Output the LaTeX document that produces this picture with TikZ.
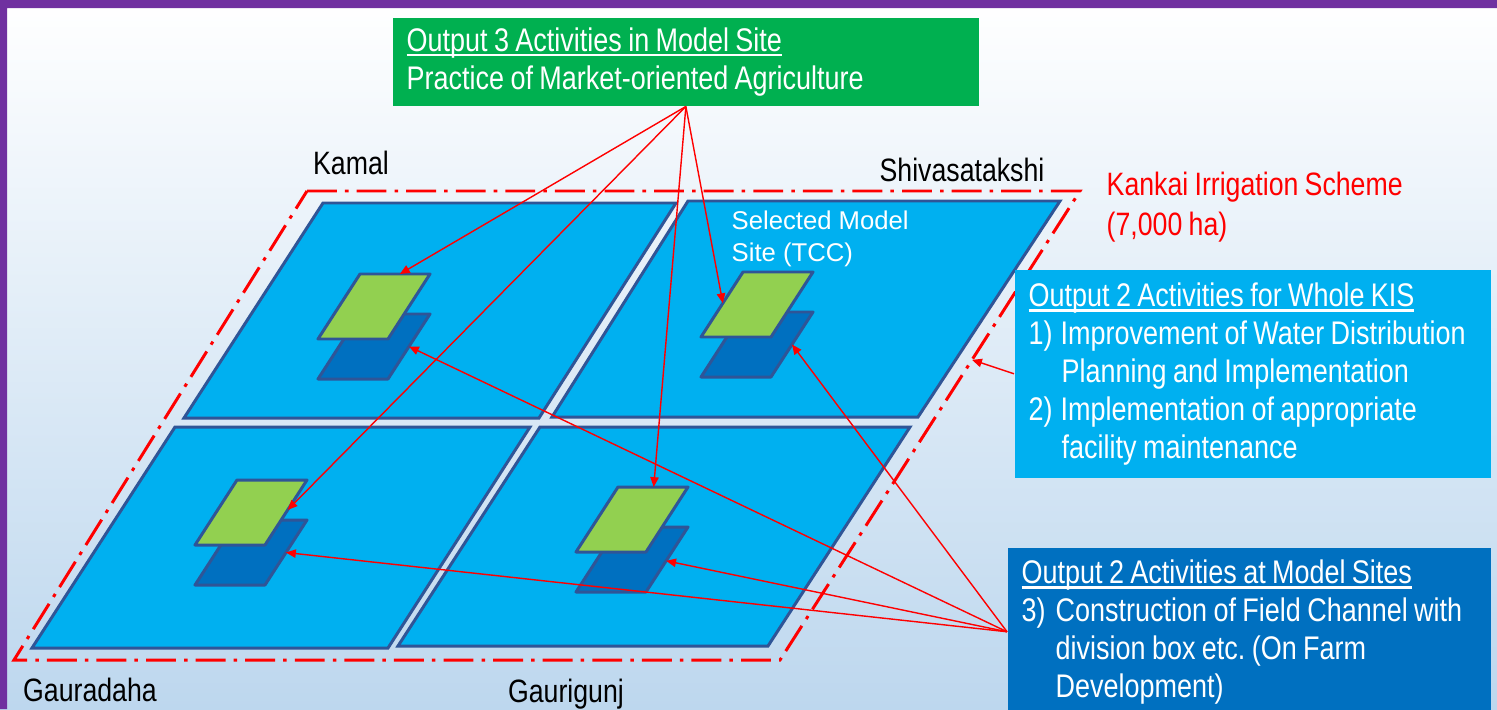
\documentclass[tikz,border=0pt]{standalone}
\usepackage{fontspec}
\setmainfont[FakeStretch=0.825,WordSpace=0.85]{Liberation Sans}
\newfontfamily\widefont{Liberation Sans}
\usetikzlibrary{positioning}
\usetikzlibrary{arrows.meta}
\usetikzlibrary{calc}
\frenchspacing
\definecolor{frame}{HTML}{7030A0}
\definecolor{backblue}{HTML}{BDD7EE}
\definecolor{fieldfill}{HTML}{00B0F0}
\definecolor{fieldline}{HTML}{2F5597}
\definecolor{sitegreen}{HTML}{92D050}
\definecolor{sitedark}{HTML}{0070C0}
\definecolor{boxgreen}{HTML}{00B050}
\definecolor{boxblue}{HTML}{00B0F0}
\definecolor{boxdark}{HTML}{0070C0}
\newcommand{\boxhead}[1]{\setbox0\hbox{#1}\rlap{\rule[-1.5pt]{\wd0}{0.6pt}}\box0}
\newcommand{\site}[2]{
  \begin{scope}[shift={#2}]
    \draw [sitebox,fill=sitedark]
          (0,40) coordinate (#1-d1) -- (70,40) coordinate (#1-d2)
          -- (28,105) coordinate (#1-d3) -- (-42,105) coordinate (#1-d4) -- cycle;
    \draw [sitebox,fill=sitegreen]
          (0,0) coordinate (#1-g1) -- (70,0) coordinate (#1-g2)
          -- (28,65) coordinate (#1-g3) -- (-42,65) coordinate (#1-g4) -- cycle;
  \end{scope}}

\begin{document}
\begin{tikzpicture}
[x=0.01cm,y=-0.01cm,
field/.style={draw=fieldline,fill=fieldfill,line width=0.85pt},
sitebox/.style={draw=fieldline,line width=0.85pt,line join=round},
boundary/.style={draw=red,line width=0.85pt,
  dash pattern=on 8.5pt off 2.3pt on 1pt off 2.3pt},
link/.style={red,line width=0.4pt,-{Triangle[length=2.8pt,width=2.4pt]}},
outbox/.style={anchor=north west,text=white,align=flush left,inner xsep=0.14cm,
  inner ysep=0pt,font=\fontsize{9.3}{10.8}\selectfont},
place/.style={inner sep=0pt,font=\fontsize{9.2}{11.4}\selectfont}]

\useasboundingbox (0,0) rectangle (1497,709);
\shade [top color=white,bottom color=backblue] (0,0) rectangle (1497,709);
\fill [frame] (0,0) rectangle (1497,8) (0,0) rectangle (7,709);

% scheme boundary
\draw [boundary] (307,191) coordinate (kis-nw) -- (1080,191) coordinate (kis-ne)
      -- (780,660) coordinate (kis-se) -- (14,660) coordinate (kis-sw) -- cycle;

% fields
\draw [field] (323,203) -- (676,203) -- (539,418) -- (184,418) -- cycle;
\draw [field] (688,201) -- (1060,201) -- (918,417) -- (552,417) -- cycle;
\draw [field] (175,427) -- (530,427) -- (388,648) -- (32,648) -- cycle;
\draw [field] (540,427) -- (910,427) -- (768,646) -- (398,646) -- cycle;

\site {tl}{(360,274)}
\site {tr}{(743,272)}
\site {bl}{(237,480)}
\site {br}{(618,487)}

\node (kamal) [place] at (351,163) {Kamal};
\node (shiva) [place] at (962,170) {Shivasatakshi};
\node (gauradaha) [place] at (90,690) {Gauradaha};
\node (gaurigunj) [place] at (566,694) {Gaurigunj};
\node (scheme) [place,anchor=west,align=left,text=red] at (1106,207)
      {Kankai Irrigation Scheme\\(7,000 ha)};
\node (tcc) [inner sep=0pt,anchor=west,align=left,text=white,
      font=\widefont\fontsize{7.3}{9.1}\selectfont] at (731,239)
      {Selected Model\\Site (TCC)};

\node (out3) [outbox,fill=boxgreen,minimum width=5.86cm,minimum height=0.88cm,
      text width=5.58cm] at (392,17)
      {\boxhead{Output 3 Activities in Model Site}\\
       Practice of Market-oriented Agriculture};
\node (out2a) [outbox,fill=boxblue,minimum width=4.76cm,minimum height=2.08cm,
      text width=4.48cm] at (1014,269)
      {\boxhead{Output 2 Activities for Whole KIS}\\
       \makebox[0.32cm][l]{1)}Improvement of Water Distribution\\
       \hspace*{0.33cm}Planning and Implementation\\
       \makebox[0.32cm][l]{2)}Implementation of appropriate\\
       \hspace*{0.33cm}facility maintenance};
\node (out2b) [outbox,fill=boxdark,minimum width=4.83cm,minimum height=1.68cm,
      text width=4.55cm] at (1007,547)
      {\boxhead{Output 2 Activities at Model Sites}\\
       \makebox[0.34cm][l]{3)}Construction of Field Channel with\\
       \hspace*{0.34cm}division box etc. (On Farm\\
       \hspace*{0.34cm}Development)};

% links
\draw [link] (out3.south) -- ($(tl-g1)!0.57!(tl-g2)$);
\draw [link] (out3.south) -- ($(tr-g1)!0.48!(tr-g4)$);
\draw [link] (out3.south) -- ($(bl-g2)!0.46!(bl-g3)$);
\draw [link] (out3.south) -- ($(br-g1)!0.51!(br-g2)$);
\draw [link] (out2b.west) -- ($(tl-d2)!0.5!(tl-d3)$);
\draw [link] (out2b.west) -- ($(tr-d2)!0.5!(tr-d3)$);
\draw [link] (out2b.west) -- ($(bl-d2)!0.5!(bl-d3)$);
\draw [link] (out2b.west) -- ($(br-d2)!0.52!(br-d3)$);
\draw [link] (out2a.west) -- ($(kis-ne)!0.36!(kis-se)$);
\end{tikzpicture}
\end{document}
